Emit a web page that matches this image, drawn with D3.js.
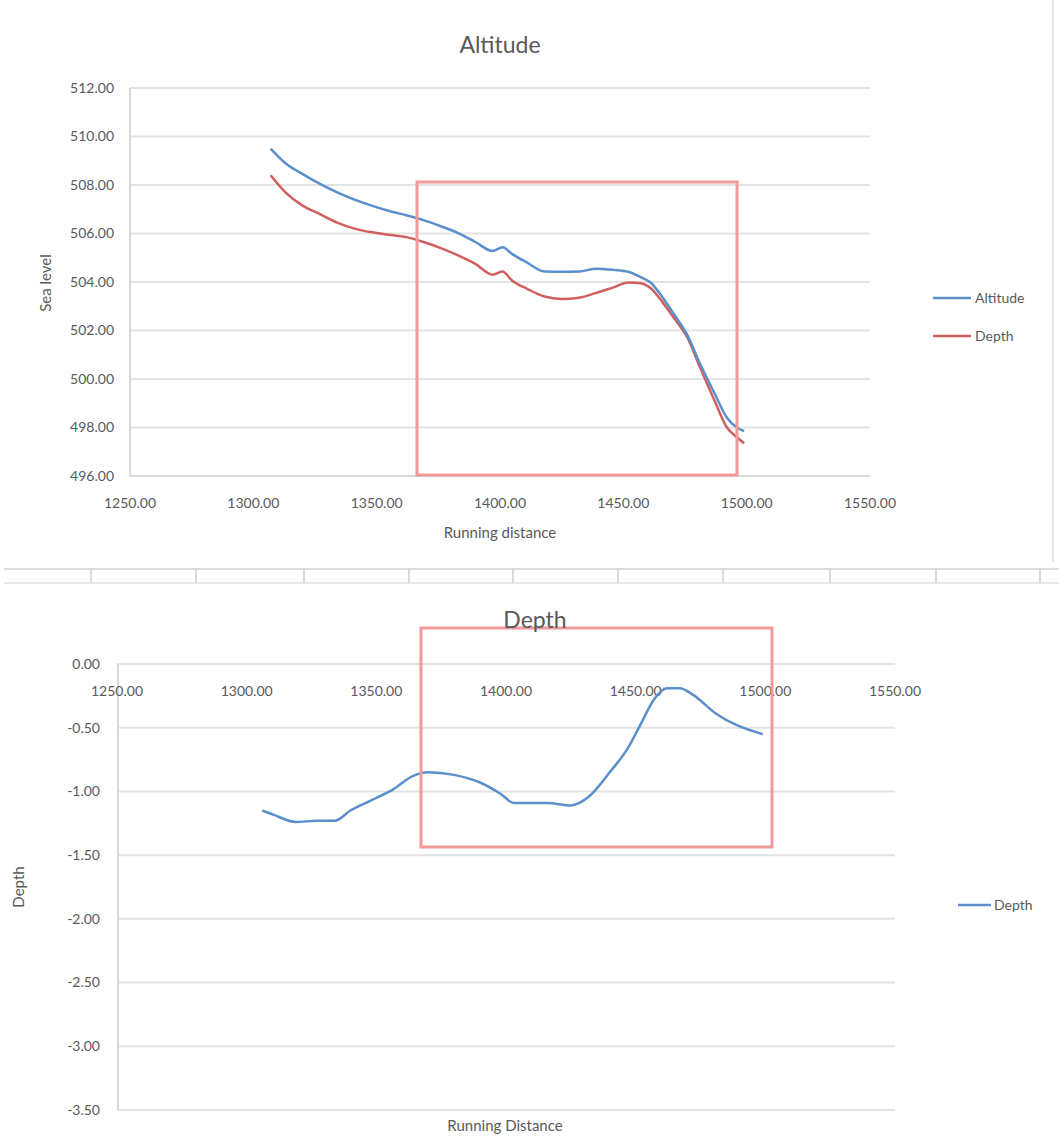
<!DOCTYPE html>
<html><head><meta charset="utf-8">
<script src="https://cdn.jsdelivr.net/npm/d3@7"></script>
<style>body{margin:0;background:#fff}svg{display:block}text{font-family:Lato,"Open Sans",sans-serif;fill:#595959}</style>
</head><body>
<script>
// Top chart data
const topDistance = [1307,1313,1320,1327,1334,1341,1348,1355,1362,1369,1376,1383,1390,1397,1401,1405,1411,1418,1425,1432,1439,1446,1452,1457,1461,1466,1471,1476,1481,1487,1492,1496,1499];
const altitude    = [509.5,508.9,508.45,508.05,507.7,507.4,507.15,506.93,506.75,506.55,506.3,506.02,505.65,505.28,505.43,505.15,504.8,504.43,504.42,504.43,504.55,504.5,504.42,504.2,503.98,503.35,502.6,501.8,500.65,499.4,498.4,498.0,497.85];
const depthTop    = [508.4,507.7,507.15,506.8,506.45,506.2,506.05,505.95,505.85,505.65,505.4,505.1,504.75,504.3,504.43,504.05,503.72,503.4,503.3,503.35,503.55,503.78,503.98,503.95,503.75,503.15,502.45,501.7,500.5,499.1,498.0,497.6,497.35];
const topXTicks = [1250,1300,1350,1400,1450,1500,1550];
const topYTicks = [496,498,500,502,504,506,508,510,512];
// Bottom chart data
const botDistance = [1306,1310,1319,1327,1334,1340,1348,1356,1364,1370,1380,1390,1398,1403,1416,1425,1432,1440,1447,1452,1457,1462,1467,1472,1481,1489,1499];
const depthDiff   = [-1.15,-1.18,-1.24,-1.23,-1.23,-1.15,-1.07,-0.99,-0.88,-0.85,-0.87,-0.93,-1.02,-1.09,-1.09,-1.11,-1.04,-0.85,-0.66,-0.47,-0.28,-0.19,-0.19,-0.24,-0.39,-0.48,-0.55];
const botXTicks = [1250,1300,1350,1400,1450,1500,1550];
const botYTicks = [0,-0.5,-1,-1.5,-2,-2.5,-3,-3.5];

const BLUE="#5b8fcb", RED="#d0605d", GRID="#e3e3e3", HL="#f29a9a";
const svg = d3.select("body").append("svg").attr("width",1059).attr("height",1140);
const fmt = d => d3.format(".2f")(d).replace("\u2212","-");

// ---------- Top chart ----------
const x1 = d3.scaleLinear().domain([1250,1550]).range([130,870]);
const y1 = d3.scaleLinear().domain([496,512]).range([476,88]);
const g1 = svg.append("g");
g1.selectAll("line.grid").data(topYTicks.slice(1)).join("line")
  .attr("x1",130).attr("x2",870).attr("y1",d=>y1(d)).attr("y2",d=>y1(d))
  .attr("stroke",GRID).attr("stroke-width",2);
g1.append("line").attr("x1",130).attr("x2",130).attr("y1",88).attr("y2",476).attr("stroke","#d9d9d9").attr("stroke-width",2);
g1.append("line").attr("x1",130).attr("x2",870).attr("y1",476).attr("y2",476).attr("stroke","#d9d9d9").attr("stroke-width",2);
g1.selectAll("text.yt").data(topYTicks).join("text")
  .attr("x",114).attr("y",d=>y1(d)).attr("dy","0.35em").attr("text-anchor","end")
  .attr("font-size",14).text(fmt);
g1.selectAll("text.xt").data(topXTicks).join("text")
  .attr("x",d=>x1(d)).attr("y",503).attr("dy","0.35em").attr("text-anchor","middle")
  .attr("font-size",14).text(fmt);
const line1a = d3.line().x((d,i)=>x1(topDistance[i])).y(d=>y1(d)).curve(d3.curveMonotoneX);
g1.append("path").attr("d",line1a(depthTop)).attr("fill","none").attr("stroke",RED).attr("stroke-width",2.5);
g1.append("path").attr("d",line1a(altitude)).attr("fill","none").attr("stroke",BLUE).attr("stroke-width",2.5);
g1.append("text").attr("x",500).attr("y",45).attr("dy","0.35em").attr("text-anchor","middle").attr("font-size",23).text("Altitude");
g1.append("text").attr("x",500).attr("y",533).attr("dy","0.35em").attr("text-anchor","middle").attr("font-size",15).text("Running distance");
g1.append("text").attr("transform","translate(46,283) rotate(-90)").attr("dy","0.35em").attr("text-anchor","middle").attr("font-size",15).text("Sea level");
// legend
[["Altitude",BLUE,298],["Depth",RED,336]].forEach(([t,c,y])=>{
  g1.append("line").attr("x1",933).attr("x2",971).attr("y1",y).attr("y2",y).attr("stroke",c).attr("stroke-width",2.5);
  g1.append("text").attr("x",975).attr("y",y).attr("dy","0.35em").attr("font-size",14).text(t);
});
// highlight box
g1.append("rect").attr("x",417).attr("y",182).attr("width",320).attr("height",293).attr("fill","none").attr("stroke",HL).attr("stroke-width",3);
// right border
svg.append("line").attr("x1",1053).attr("x2",1053).attr("y1",0).attr("y2",562).attr("stroke","#e6e6e6").attr("stroke-width",2);

// ---------- Separator ----------
const sepTicks = [91,196,304,409,513,618,723,830,936,1040];
svg.append("line").attr("x1",4).attr("x2",1059).attr("y1",569).attr("y2",569).attr("stroke","#dcdcdc").attr("stroke-width",2);
svg.append("line").attr("x1",4).attr("x2",1059).attr("y1",583).attr("y2",583).attr("stroke","#e8e8e8").attr("stroke-width",2);
svg.selectAll("line.sep").data(sepTicks).join("line")
  .attr("x1",d=>d).attr("x2",d=>d).attr("y1",569).attr("y2",583).attr("stroke","#cfcfcf").attr("stroke-width",1.5);

// ---------- Bottom chart ----------
const x2 = d3.scaleLinear().domain([1250,1550]).range([117,895]);
const y2 = d3.scaleLinear().domain([-3.5,0]).range([1110,664]);
const g2 = svg.append("g");
g2.selectAll("line.grid").data(botYTicks).join("line")
  .attr("x1",117).attr("x2",895).attr("y1",d=>y2(d)).attr("y2",d=>y2(d))
  .attr("stroke",GRID).attr("stroke-width",2);
g2.append("line").attr("x1",118).attr("x2",118).attr("y1",664).attr("y2",1110).attr("stroke","#d9d9d9").attr("stroke-width",2);
g2.selectAll("text.yt").data(botYTicks).join("text")
  .attr("x",100).attr("y",d=>y2(d)).attr("dy","0.35em").attr("text-anchor","end")
  .attr("font-size",14).text(fmt);
g2.selectAll("text.xt").data(botXTicks).join("text")
  .attr("x",d=>x2(d)).attr("y",691).attr("dy","0.35em").attr("text-anchor","middle")
  .attr("font-size",14).text(fmt);
const line2 = d3.line().x((d,i)=>x2(botDistance[i])).y(d=>y2(d)).curve(d3.curveMonotoneX);
g2.append("path").attr("d",line2(depthDiff)).attr("fill","none").attr("stroke",BLUE).attr("stroke-width",2.5);
g2.append("rect").attr("x",421).attr("y",628).attr("width",351).attr("height",219).attr("fill","none").attr("stroke",HL).attr("stroke-width",3);
g2.append("text").attr("x",535).attr("y",620).attr("dy","0.35em").attr("text-anchor","middle").attr("font-size",23).text("Depth");
g2.append("text").attr("x",505).attr("y",1126).attr("dy","0.35em").attr("text-anchor","middle").attr("font-size",15).text("Running Distance");
g2.append("text").attr("transform","translate(19,887) rotate(-90)").attr("dy","0.35em").attr("text-anchor","middle").attr("font-size",15).text("Depth");
g2.append("line").attr("x1",958).attr("x2",991).attr("y1",905).attr("y2",905).attr("stroke",BLUE).attr("stroke-width",2.5);
g2.append("text").attr("x",994).attr("y",905).attr("dy","0.35em").attr("font-size",14).text("Depth");
</script>
</body></html>
